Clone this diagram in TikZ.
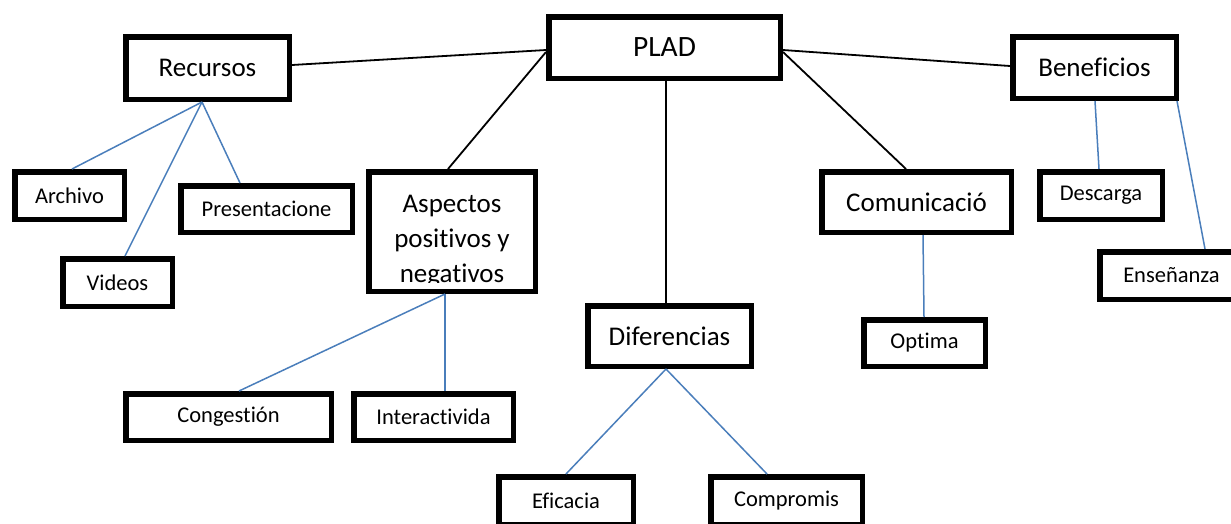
\documentclass[tikz,border=0pt]{standalone}
\usepackage{fontspec}
\setmainfont{Carlito}[Ligatures=NoCommon]
\definecolor{lnblue}{RGB}{74,126,187}
\begin{document}
\begin{tikzpicture}[x=1pt,y=-1pt,
  box/.style={draw=black, line width=5.5pt, rectangle, inner sep=0pt, fill=white, align=center},
  big/.style={font=\fontsize{27}{35}\selectfont},
  small/.style={font=\fontsize{22.5}{26}\selectfont},
  mainln/.style={draw=black, line width=1.8pt},
  subln/.style={draw=lnblue, line width=1.5pt}]
\useasboundingbox (0,0) rectangle (1231,523);
% boxes
\node[box,font=\fontsize{29.5}{35}\selectfont,minimum width=231.5pt,minimum height=61.5pt] (plad) at (664.5,47.5) {PLAD};
\node[box,big,minimum width=163.5pt,minimum height=62.5pt] (rec) at (207.5,68) {Recursos};
\node[box,big,minimum width=163.5pt,minimum height=61.5pt] (ben) at (1094.5,67.5) {Beneficios};
\node[box,small,minimum width=109.5pt,minimum height=47.5pt] (arc) at (69.5,195.5) {Archivo};
\node[box,small,minimum width=171.5pt,minimum height=46.5pt] (pre) at (266.5,209) {Presentacione};
\node[box,small,minimum width=109.5pt,minimum height=47.5pt] (vid) at (117.5,282.5) {Videos};
\node[box,minimum width=166.5pt,minimum height=119.5pt] (asp) at (452,231.5) {};
\begin{scope}
\clip (369,172) rectangle (535,282);
\node[big,align=center,inner sep=0pt] (aspT) at (452,241) {Aspectos\\positivos y\\negativos};
\end{scope}
\node[box,big,minimum width=163.5pt,minimum height=60.5pt] (dif) at (669.5,336) {Diferencias};
\node[box,big,minimum width=189.5pt,minimum height=60.5pt] (com) at (916.5,202) {Comunicació};
\node[box,small,minimum width=122.5pt,minimum height=47.5pt] (des) at (1101,195.5) {Descarga};
\node[box,small,minimum width=143.5pt,minimum height=47.5pt] (ens) at (1171.5,275.5) {Enseñanza};
\node[box,small,minimum width=121.5pt,minimum height=46.5pt] (opt) at (924.5,343) {Optima};
\node[box,small,minimum width=205.5pt,minimum height=46.5pt] (con) at (228.5,417) {Congestión};
\node[box,small,minimum width=159.5pt,minimum height=46.5pt] (int) at (433.5,417) {Interactivida};
\node[box,small,minimum width=134.5pt,minimum height=47.5pt] (efi) at (566,500.5) {Eficacia};
\node[box,small,minimum width=151.5pt,minimum height=47.5pt] (cmp) at (786.5,500.5) {Compromis};
% main connectors
\draw[mainln] ([yshift=3pt]rec.east) -- ([yshift=-2.5pt]plad.west);
\draw[mainln] ([yshift=-4.5pt]plad.west) -- ([xshift=-4pt]asp.north);
\draw[mainln] ([yshift=-2.5pt]plad.east) -- ([yshift=1.5pt]ben.west);
\draw[mainln] ([yshift=-4.5pt]plad.east) -- ([xshift=-10.5pt]com.north);
\draw[mainln] ([xshift=1.5pt]plad.south) -- ([xshift=1.5pt]plad.south |- dif.north);
% sub connectors
\draw[subln] ([xshift=-5.5pt]rec.south) -- ([xshift=2.5pt]arc.north);
\draw[subln] ([xshift=-5.5pt]rec.south) -- ([xshift=7.5pt]vid.north);
\draw[subln] ([xshift=-5.5pt]rec.south) -- ([xshift=-26.5pt]pre.north);
\draw[subln] ([xshift=-7pt]asp.south) -- ([xshift=10.5pt]con.north);
\draw[subln] ([xshift=-7pt]asp.south) -- ([xshift=11.5pt]int.north);
\draw[subln] ([xshift=-3.5pt]dif.south) -- (efi.north);
\draw[subln] ([xshift=-3.5pt]dif.south) -- ([xshift=-19.5pt]cmp.north);
\draw[subln] ([xshift=6.5pt]com.south) -- ([xshift=-0.5pt]opt.north);
\draw[subln] ([xshift=0.5pt]ben.south) -- ([xshift=-2pt]des.north);
\draw[subln] ([xshift=82.5pt]ben.south) -- ([xshift=33.5pt]ens.north);
\end{tikzpicture}
\end{document}
